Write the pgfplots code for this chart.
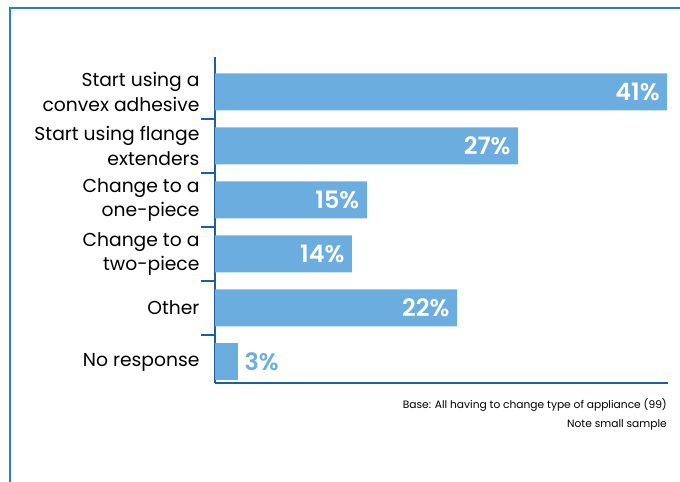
\documentclass[border=0pt]{standalone}
\usepackage{pgfplots}
\pgfplotsset{compat=1.18}
\usepackage{pgfplotstable}
\usepackage{fontspec}
\setmainfont{Poppins}[BoldFont={Poppins SemiBold}]
\definecolor{barblue}{HTML}{6CADDF}
\definecolor{axisblue}{HTML}{1F5FA0}
\definecolor{frameblue}{HTML}{2E7BC8}
\pgfplotstableread[col sep=comma]{
pos,val,lab
1,22.0,22\%
2,12.45,14\%
3,13.8,15\%
4,27.55,27\%
5,41.1,41\%
}\inside
\pgfplotstableread[col sep=comma]{
pos,val,lab
0,2.1,3\%
}\outside
\begin{document}
\begin{tikzpicture}
\path[use as bounding box] (0bp,0bp) rectangle (680bp,482bp);
\draw[frameblue, line width=1.6bp] (10bp,474bp) -- (10bp,0bp);
\draw[frameblue, line width=1.6bp] (9.2bp,474bp) -- (680bp,474bp);
\begin{axis}[
  at={(215bp,99bp)}, anchor=south west,
  scale only axis, width=453bp, height=326bp,
  xmin=0, xmax=41.18,
  ymin=-0.39, ymax=5.648,
  xbar, bar width=37bp, bar shift=0pt,
  axis x line*=bottom, axis y line*=left,
  axis line style={axisblue, line width=1.2bp},
  x axis line style={-}, y axis line style={-},
  xtick=\empty,
  ytick={0,1,2,3,4,5},
  yticklabels={No response, Other, {Change to a\\two-piece}, {Change to a\\one-piece}, {Start using flange\\extenders}, {Start using a\\convex adhesive}},
  yticklabel style={align=right, font=\fontsize{18.8}{24.5}\selectfont, text=black, xshift=-12bp},
  major tick length=0pt,
  minor ytick={0.5,1.5,2.5,3.5,4.5},
  minor tick length=14bp,
  tick align=outside,
  minor tick style={axisblue, line width=1.2bp},
  clip=false,
  point meta=explicit symbolic,
  nodes near coords,
]
\addplot[fill=barblue, draw=none,
  every node near coord/.append style={anchor=east, xshift=-4bp, text=white, font=\fontsize{24}{26}\selectfont\bfseries}]
  table[x=val, y=pos, meta=lab] {\inside};
\addplot[fill=barblue, draw=none,
  every node near coord/.append style={anchor=west, xshift=3bp, text=barblue, font=\fontsize{24}{26}\selectfont\bfseries}]
  table[x=val, y=pos, meta=lab] {\outside};
\end{axis}
\node[anchor=north east, align=right, font=\fontsize{10.7}{19.5}\selectfont, inner sep=0pt] at (667bp,84bp) {Base: All having to change type of appliance (99)\\Note small sample};
\end{tikzpicture}
\end{document}
